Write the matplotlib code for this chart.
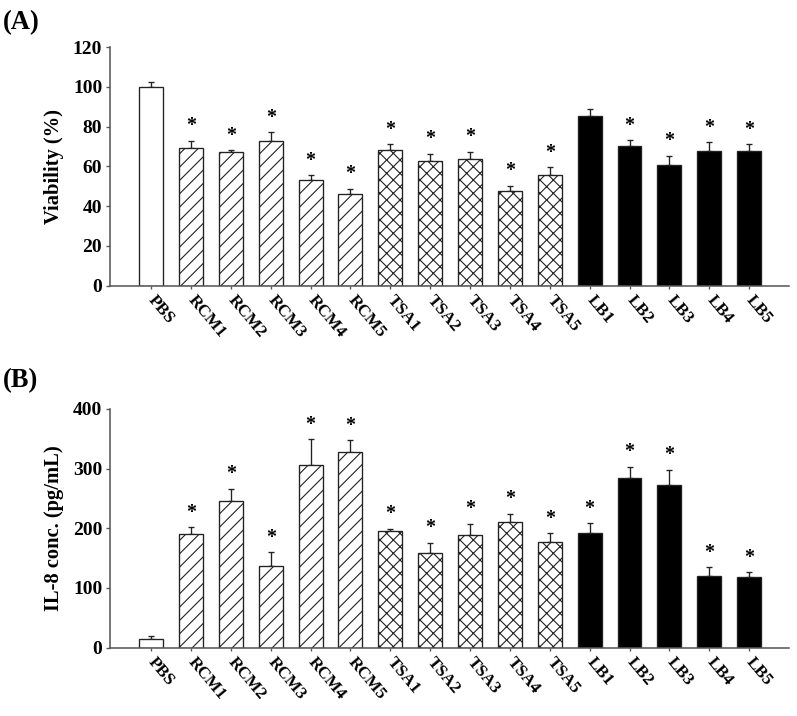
import numpy as np
import matplotlib.pyplot as plt

plt.rcParams['font.family'] = ['Liberation Serif', 'DejaVu Serif']
plt.rcParams['font.weight'] = 'bold'
plt.rcParams['hatch.linewidth'] = 1.0
plt.rcParams['hatch.color'] = '#222222'

groups = ['PBS', 'RCM1', 'RCM2', 'RCM3', 'RCM4', 'RCM5',
          'TSA1', 'TSA2', 'TSA3', 'TSA4', 'TSA5',
          'LB1', 'LB2', 'LB3', 'LB4', 'LB5']

# (A) viability
via_mean = [100.0, 69.5, 67.1, 72.7, 53.2, 46.1,
            68.4, 62.6, 63.8, 47.7, 55.7,
            85.6, 70.3, 60.9, 67.9, 67.9]
via_err = [2.5, 3.5, 1.0, 4.5, 2.5, 2.7,
           2.9, 3.8, 3.7, 2.5, 3.9,
           3.2, 3.0, 4.4, 4.2, 3.4]
via_star = [0, 1, 1, 1, 1, 1, 1, 1, 1, 1, 1, 0, 1, 1, 1, 1]

# (B) IL-8
il8_mean = [14.5, 191.0, 245.8, 136.3, 305.6, 327.9,
            195.5, 158.0, 188.8, 211.2, 177.1,
            192.7, 284.9, 273.2, 120.7, 118.4]
il8_err = [5.0, 10.6, 20.7, 23.5, 43.6, 19.6,
           3.4, 18.0, 18.5, 12.8, 14.5,
           15.7, 18.5, 25.1, 14.0, 7.8]
il8_star = [0, 1, 1, 1, 1, 1, 1, 1, 1, 1, 1, 1, 1, 1, 1, 1]


def style_of(name):
    if name.startswith('RCM'):
        return 'white', '//'
    if name.startswith('TSA'):
        return 'white', 'xx'
    if name.startswith('LB'):
        return 'black', None
    return 'white', None


def panel(ax, means, errs, stars, ymax, ystep, ylabel):
    x = np.arange(len(groups))
    for i, g in enumerate(groups):
        fc, hatch = style_of(g)
        ax.bar(x[i], means[i], width=0.6, color=fc, edgecolor='#222222',
               linewidth=1.2, hatch=hatch, zorder=2)
    ax.errorbar(x, means, yerr=[np.zeros(len(errs)), errs], fmt='none',
                ecolor='#222222', elinewidth=1.2, capsize=3, capthick=1.2, zorder=1)
    for i in range(len(groups)):
        if stars[i]:
            ax.annotate('*', (x[i], means[i] + errs[i]), xytext=(0, 4),
                        textcoords='offset points', ha='center', va='bottom',
                        fontsize=18, fontweight='bold')
    ax.set_xlim(-1.03, 16.0)
    ax.set_ylim(0, ymax)
    ax.set_yticks(np.arange(0, ymax + 1, ystep))
    ax.set_xticks(x)
    ax.set_xticklabels(groups, rotation=-50, ha='left', va='center',
                       rotation_mode='anchor', fontsize=15.5, fontweight='bold')
    for lab in ax.get_yticklabels():
        lab.set_fontsize(17.5)
        lab.set_fontweight('bold')
    ax.tick_params(axis='y', length=4, width=1.2, color='#555555', pad=3)
    ax.tick_params(axis='x', length=3, width=1.2, color='#555555', pad=8)
    ax.spines['top'].set_visible(False)
    ax.spines['right'].set_visible(False)
    for s in ['left', 'bottom']:
        ax.spines[s].set_color('#555555')
        ax.spines[s].set_linewidth(1.4)
    ax.set_ylabel(ylabel, fontsize=18.5, fontweight='bold', labelpad=8)


fig = plt.figure(figsize=(797 / 80, 716 / 80), dpi=80)
ax1 = fig.add_axes([0.138, 0.601, 0.852, 0.333])
ax2 = fig.add_axes([0.138, 0.0954, 0.852, 0.3336])

panel(ax1, via_mean, via_err, via_star, 120, 20, 'Viability (%)')
panel(ax2, il8_mean, il8_err, il8_star, 400, 100, 'IL-8 conc. (pg/mL)')

fig.text(0.004, 0.969, '(A)', fontsize=24, fontweight='bold', va='center', ha='left')
fig.text(0.004, 0.468, '(B)', fontsize=24, fontweight='bold', va='center', ha='left')

fig.savefig('out.png', dpi=80)
